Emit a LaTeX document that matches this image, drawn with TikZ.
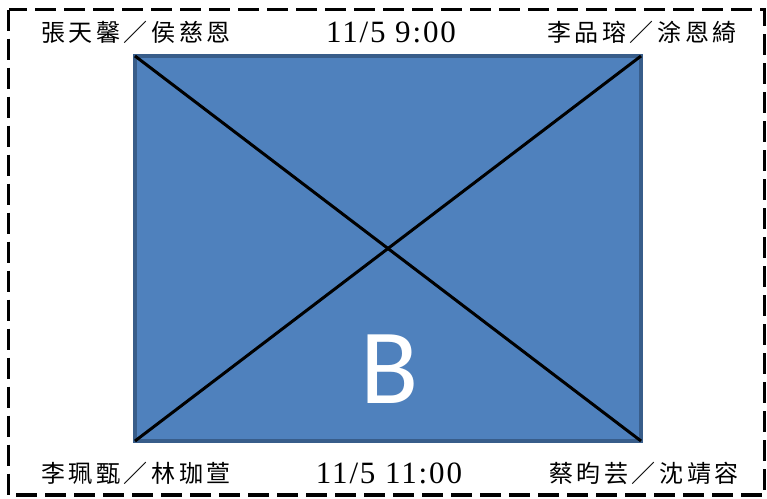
\documentclass[tikz,border=0pt]{standalone}
\usepackage{fontspec}
\usetikzlibrary{positioning}
\newfontfamily\cjkfont[LetterSpace=15]{Noto Sans CJK TC}
\newfontfamily\numfont[LetterSpace=6]{Liberation Serif}
\newfontfamily\letterfont{Carlito}
\definecolor{boxfill}{HTML}{4F81BD}
\definecolor{boxedge}{HTML}{385D8A}

\begin{document}
\begin{tikzpicture}[x=1pt,y=-1pt,
  names/.style={font=\cjkfont\fontsize{24}{24}\selectfont,inner sep=0pt},
  slot/.style={font=\numfont\fontsize{31}{31}\selectfont,inner sep=0pt}]
  \useasboundingbox (0,0) rectangle (767,498);
  % outer frame
  \draw[line width=3.5pt,dash pattern=on 21pt off 8pt] (8.5,9.5) rectangle (764.5,495);

  % room B
  \node[draw=boxedge,fill=boxfill,line width=4pt,outer sep=0pt,
        minimum width=506pt,minimum height=385pt] (roomB) at (388,248.5) {};
  \draw[line width=3pt] (roomB.north west) -- (roomB.south east);
  \draw[line width=3pt] (roomB.north east) -- (roomB.south west);
  \node[font=\letterfont\fontsize{107}{107}\selectfont,text=white,inner sep=0pt] (label) at (390,369) {B};

  % top row
  \node[names] (tl) at (136,32) {張天馨／侯慈恩};
  \node[slot] (tm) at (391,32) {11/5 9:00};
  \node[names] (tr) at (642,32) {李品瑢／涂恩綺};

  % bottom row
  \node[names] (bl) at (136,473) {李珮甄／林珈萱};
  \node[slot] (bm) at (389,473) {11/5 11:00};
  \node[names] (br) at (644,473) {蔡昀芸／沈靖容};
\end{tikzpicture}
\end{document}
